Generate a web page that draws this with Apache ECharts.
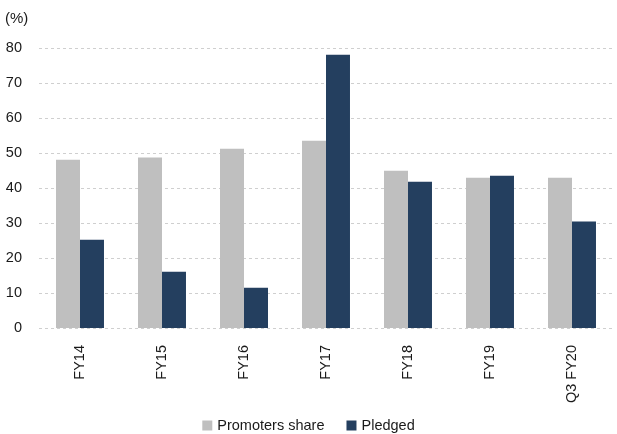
<!DOCTYPE html>
<html><head><meta charset="utf-8">
<script src="https://cdn.jsdelivr.net/npm/echarts@6/dist/echarts.min.js"></script>
<style>html,body{margin:0;padding:0;background:#fff}#c{width:617px;height:434px}</style>
</head><body><div id="c"></div>
<script>
const categories = ['FY14','FY15','FY16','FY17','FY18','FY19','Q3 FY20'];
const promotersShare = [48.1, 48.7, 51.2, 53.5, 44.9, 42.9, 42.9];
const pledged = [25.2, 16.1, 11.5, 78.1, 41.8, 43.5, 30.4];
const yTicks = [0, 10, 20, 30, 40, 50, 60, 70, 80];

const chart = echarts.init(document.getElementById('c'), null, {renderer: 'canvas'});
const font = '"Liberation Sans", Arial, sans-serif';
chart.setOption({
  animation: false,
  textStyle: {fontFamily: font},
  grid: {left: 39, right: 4, top: 48, bottom: 106, containLabel: false},
  legend: {
    bottom: -4, left: 'center', itemWidth: 10, itemHeight: 10, itemGap: 22,
    icon: 'rect',
    textStyle: {fontFamily: font, fontSize: 14.5, color: '#1a1a1a'},
    data: ['Promoters share', 'Pledged']
  },
  graphic: [{type: 'text', left: 5, top: 11, style: {text: '(%)', fontFamily: font, fontSize: 15, fill: '#1a1a1a'}}],
  xAxis: {
    type: 'category', data: categories,
    axisLine: {show: false}, axisTick: {show: false},
    axisLabel: {rotate: 90, margin: 17, fontFamily: font, fontSize: 14.5, color: '#1a1a1a'}
  },
  yAxis: {
    type: 'value', min: yTicks[0], max: yTicks[yTicks.length - 1], interval: 10,
    axisLine: {show: false}, axisTick: {show: false},
    axisLabel: {margin: 17, fontFamily: font, fontSize: 14.5, color: '#1a1a1a'},
    splitLine: {show: true, lineStyle: {type: [3, 3], color: '#cfcfcf', width: 1}}
  },
  series: [
    {name: 'Promoters share', type: 'bar', data: promotersShare, barGap: '0%', barCategoryGap: '41.5%', itemStyle: {color: '#bfbfbf'}},
    {name: 'Pledged', type: 'bar', data: pledged, barGap: '0%', barCategoryGap: '41.5%', itemStyle: {color: '#243f5f'}}
  ]
});
</script></body></html>
